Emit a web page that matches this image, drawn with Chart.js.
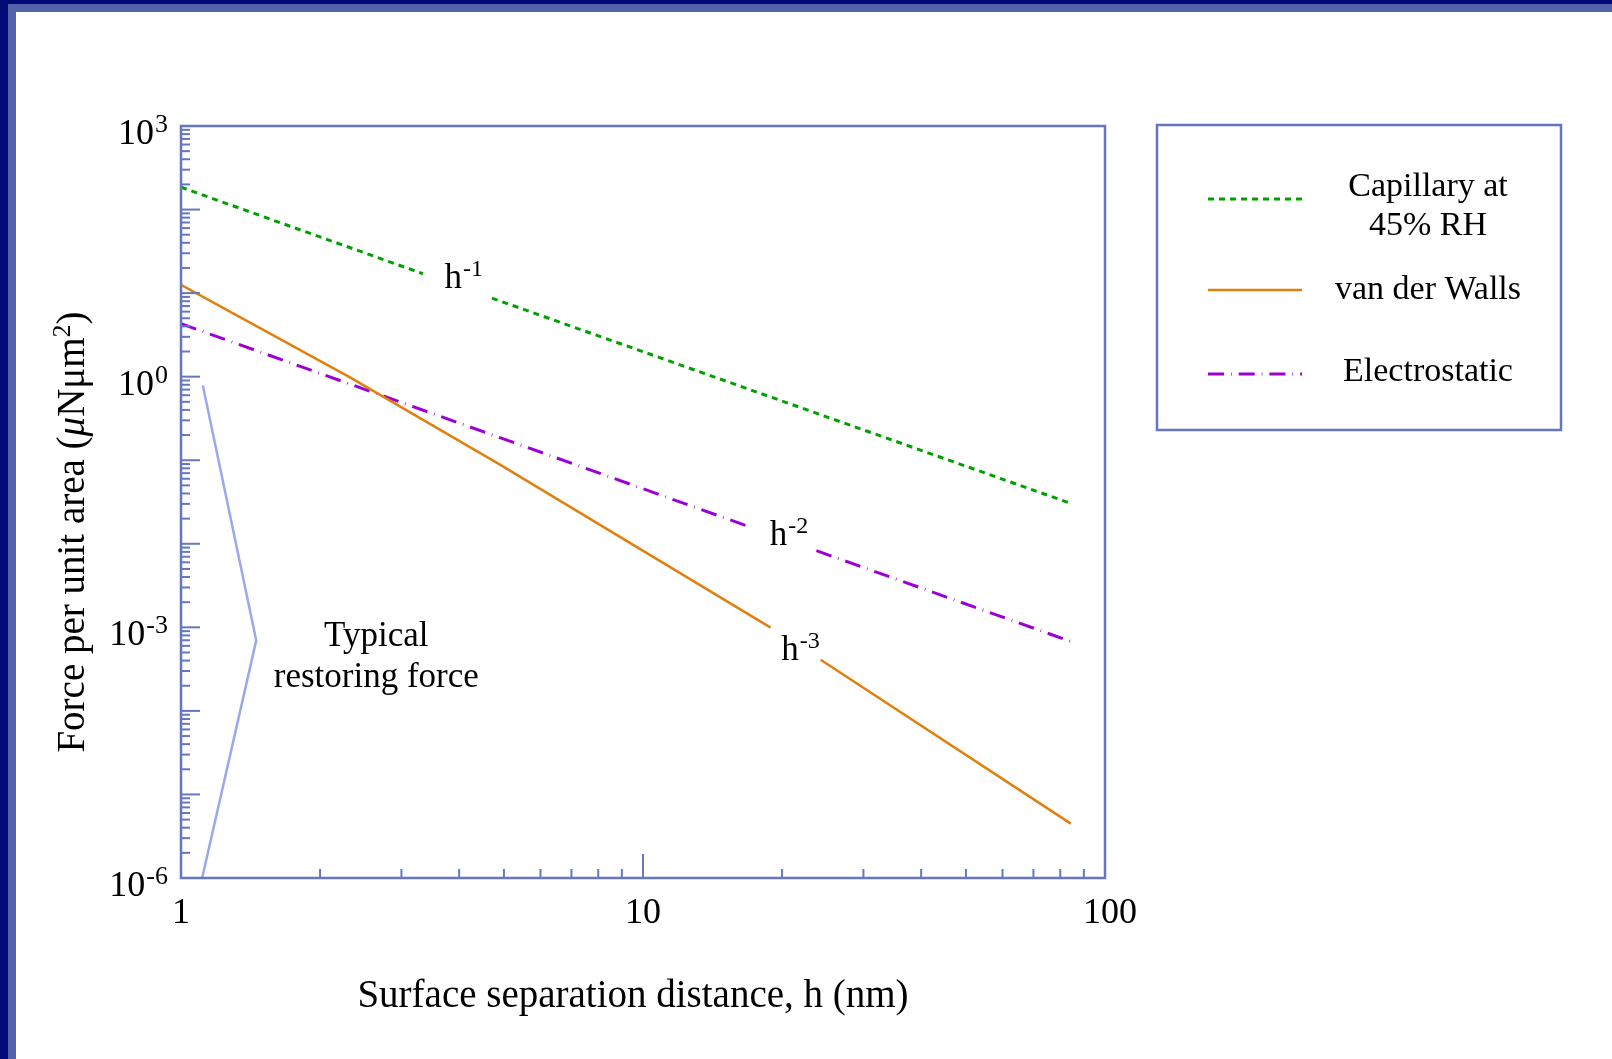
<!DOCTYPE html>
<html>
<head>
<meta charset="utf-8">
<title>Force per unit area vs surface separation</title>
<script src="https://cdn.jsdelivr.net/npm/chart.js@4.4.0/dist/chart.umd.min.js"></script>
<style>
  html, body { margin: 0; padding: 0; background: #fff; }
  body { width: 1612px; height: 1059px; position: relative; overflow: hidden; }
  #chart { position: absolute; left: 0; top: 0; }
  .band { position: absolute; }
  .dark { background: #020a78; }
  .light { background: #5462aa; }
</style>
</head>
<body>
<canvas id="chart" width="1612" height="1059"></canvas>
<div class="band dark" style="left:0;top:0;width:8px;height:1059px"></div>
<div class="band dark" style="left:0;top:0;width:1612px;height:4px"></div>
<div class="band light" style="left:8px;top:4px;width:8px;height:1055px"></div>
<div class="band light" style="left:8px;top:4px;width:1604px;height:8px"></div>
<script>
// data (h in nm, force in uN/um^2), null = break in line for the slope label
const capH = [1, 3.34, 4.0, 4.71, 84.6];
const capF = [185, 17.05, null, 8.71, 0.0302];

const vdwH = [1, 2.317, 4.892, 18.89, 21.4, 24.24, 84.3];
const vdwF = [12.6, 0.987, 0.0891, 9.91e-4, null, 4.10e-4, 4.48e-6];

const elecH = [1, 16.79, 20, 23.73, 85.0];
const elecF = [4.30, 0.01637, null, 0.00827, 6.67e-4];

const restoreH = [1.115, 1.455, 1.111];
const restoreF = [0.785, 6.98e-4, 1e-6];

// axes
const xDecades = [1, 10, 100];
const xTickLabels = ['1', '10', '100'];
const yDecades = [1e-6, 1e-5, 1e-4, 1e-3, 1e-2, 1e-1, 1, 10, 100, 1000];
const yLabelled = [1e-6, 1e-3, 1, 1e3];
const yLabelExp = ['-6', '-3', '0', '3'];
const minorSteps = [2, 3, 4, 5, 6, 7, 8, 9];

// slope notes (data coords)
const slopeNoteH = [3.72, 18.8, 19.93];
const slopeNoteF = [11.4, 0.00957, 4.1e-4];
const slopeNoteExp = ['-1', '-2', '-3'];

const restoreNoteLines = ['Typical', 'restoring force'];
const restoreNoteH = 2.647;
const restoreNoteF = [5.98e-4, 1.93e-4];

const AXIS = '#6676c0';
const SERIF = '"Liberation Serif", "Times New Roman", serif';

function toPts(hs, fs) {
    return hs.map((h, i) => ({ x: h, y: fs[i] }));
}

function buildTicks(decades) {
    const out = [];
    decades.forEach((d, i) => {
        out.push({ value: d, major: true });
        if (i < decades.length - 1) {
            minorSteps.forEach(m => out.push({ value: d * m, major: false }));
        }
    });
    return out;
}

// base text + superscript, y is baseline
function drawSup(ctx, base, sup, x, y, align, size, supSize) {
    ctx.font = size + 'px ' + SERIF;
    const wb = ctx.measureText(base).width;
    ctx.font = supSize + 'px ' + SERIF;
    const ws = ctx.measureText(sup).width;
    let x0 = x;
    if (align === 'right') x0 = x - wb - ws;
    if (align === 'center') x0 = x - (wb + ws) / 2;
    ctx.textAlign = 'left';
    ctx.textBaseline = 'alphabetic';
    ctx.font = size + 'px ' + SERIF;
    ctx.fillText(base, x0, y);
    ctx.font = supSize + 'px ' + SERIF;
    ctx.fillText(sup, x0 + wb + 1, y - 12);
}

const decorPlugin = {
    id: 'decor',
    afterDraw(chart) {
        const ctx = chart.ctx;
        const { left, right, top, bottom } = chart.chartArea;
        const xs = chart.scales.x;
        const ys = chart.scales.y;
        ctx.save();

        // ticks pointing inwards
        ctx.strokeStyle = AXIS;
        ctx.lineWidth = 2;
        ys.ticks.forEach(t => {
            const py = ys.getPixelForValue(t.value);
            const len = t.major ? 19 : 9;
            ctx.beginPath();
            ctx.moveTo(left, py);
            ctx.lineTo(left + len, py);
            ctx.stroke();
        });
        xs.ticks.forEach(t => {
            const px = xs.getPixelForValue(t.value);
            const len = t.major ? 24 : 9;
            ctx.beginPath();
            ctx.moveTo(px, bottom);
            ctx.lineTo(px, bottom - len);
            ctx.stroke();
        });

        // frame
        ctx.lineWidth = 2.5;
        ctx.strokeRect(left, top, right - left, bottom - top);

        // tick labels
        ctx.fillStyle = '#000';
        yLabelled.forEach((v, i) => {
            const py = ys.getPixelForValue(v);
            drawSup(ctx, '10', yLabelExp[i], left - 14, py + 18, 'right', 36, 26);
        });
        ctx.font = '36px ' + SERIF;
        ctx.textAlign = 'center';
        ctx.textBaseline = 'alphabetic';
        xDecades.forEach((v, i) => {
            ctx.fillText(xTickLabels[i], xs.getPixelForValue(v) + (i === 2 ? 5 : 0), bottom + 45);
        });

        // axis titles
        ctx.font = '39px ' + SERIF;
        ctx.fillText('Surface separation distance, h (nm)', 633, 1007);

        const parts = [
            { t: 'Force per unit area (', f: '39px ' + SERIF, dy: 0 },
            { t: 'μ', f: 'italic 39px ' + SERIF, dy: 0 },
            { t: 'Nμm', f: '39px ' + SERIF, dy: 0 },
            { t: '2', f: '26px ' + SERIF, dy: -14 },
            { t: ')', f: '39px ' + SERIF, dy: 0 }
        ];
        let total = 0;
        parts.forEach(p => { ctx.font = p.f; p.w = ctx.measureText(p.t).width; total += p.w; });
        ctx.save();
        ctx.translate(84, 532);
        ctx.rotate(-Math.PI / 2);
        ctx.textAlign = 'left';
        let cx = -total / 2;
        parts.forEach(p => {
            ctx.font = p.f;
            ctx.fillText(p.t, cx, p.dy);
            cx += p.w;
        });
        ctx.restore();

        // slope notes
        slopeNoteH.forEach((h, i) => {
            drawSup(ctx, 'h', slopeNoteExp[i], xs.getPixelForValue(h), ys.getPixelForValue(slopeNoteF[i]), 'left', 35, 24);
        });

        // restoring force note
        ctx.font = '35px ' + SERIF;
        ctx.textAlign = 'center';
        restoreNoteLines.forEach((s, i) => {
            ctx.fillText(s, xs.getPixelForValue(restoreNoteH), ys.getPixelForValue(restoreNoteF[i]));
        });

        // legend box
        const box = { x: 1157, y: 125, w: 404, h: 305 };
        ctx.strokeStyle = AXIS;
        ctx.lineWidth = 2.5;
        ctx.strokeRect(box.x, box.y, box.w, box.h);
        const lineY = [199, 290, 374];
        const textY = [[187, 226], [290], [372]];
        chart.data.datasets.forEach((ds, i) => {
            if (!ds.legendLines) return;
            ctx.strokeStyle = ds.borderColor;
            ctx.lineWidth = ds.borderWidth;
            ctx.setLineDash(ds.borderDash || []);
            ctx.beginPath();
            ctx.moveTo(1208, lineY[i]);
            ctx.lineTo(1302, lineY[i]);
            ctx.stroke();
            ctx.setLineDash([]);
            ctx.fillStyle = '#000';
            ctx.font = '34px ' + SERIF;
            ctx.textAlign = 'center';
            ctx.textBaseline = 'middle';
            ds.legendLines.forEach((s, k) => ctx.fillText(s, 1428, textY[i][k]));
        });
        ctx.restore();
    }
};

const ctx = document.getElementById('chart');

new Chart(ctx, {
    type: 'scatter',
    data: {
        datasets: [
            {
                label: 'Capillary at 45% RH',
                legendLines: ['Capillary at', '45% RH'],
                data: toPts(capH, capF),
                borderColor: '#00a000',
                borderWidth: 3,
                borderDash: [6, 5]
            },
            {
                label: 'van der Walls',
                legendLines: ['van der Walls'],
                data: toPts(vdwH, vdwF),
                borderColor: '#e0800e',
                borderWidth: 2.5
            },
            {
                label: 'Electrostatic',
                legendLines: ['Electrostatic'],
                data: toPts(elecH, elecF),
                borderColor: '#9b00d6',
                borderWidth: 3,
                borderDash: [16, 7, 0.7, 7]
            },
            {
                label: 'Typical restoring force',
                data: toPts(restoreH, restoreF),
                borderColor: '#98aaea',
                borderWidth: 2.5
            }
        ]
    },
    options: {
        responsive: false,
        animation: false,
        showLine: true,
        spanGaps: false,
        elements: {
            point: { radius: 0, hoverRadius: 0 },
            line: { tension: 0, fill: false }
        },
        layout: {
            padding: { left: 181, top: 126, right: 507, bottom: 181 }
        },
        plugins: {
            legend: { display: false },
            tooltip: { enabled: false }
        },
        scales: {
            x: {
                type: 'logarithmic',
                min: 1,
                max: 100,
                afterBuildTicks: (scale) => { scale.ticks = buildTicks(xDecades); },
                afterFit: (scale) => { scale.height = 0; },
                grid: { display: false },
                border: { display: false },
                ticks: { display: false }
            },
            y: {
                type: 'logarithmic',
                min: 1e-6,
                max: 1e3,
                afterBuildTicks: (scale) => { scale.ticks = buildTicks(yDecades); },
                afterFit: (scale) => { scale.width = 0; },
                grid: { display: false },
                border: { display: false },
                ticks: { display: false }
            }
        }
    },
    plugins: [decorPlugin]
});
</script>
</body>
</html>
